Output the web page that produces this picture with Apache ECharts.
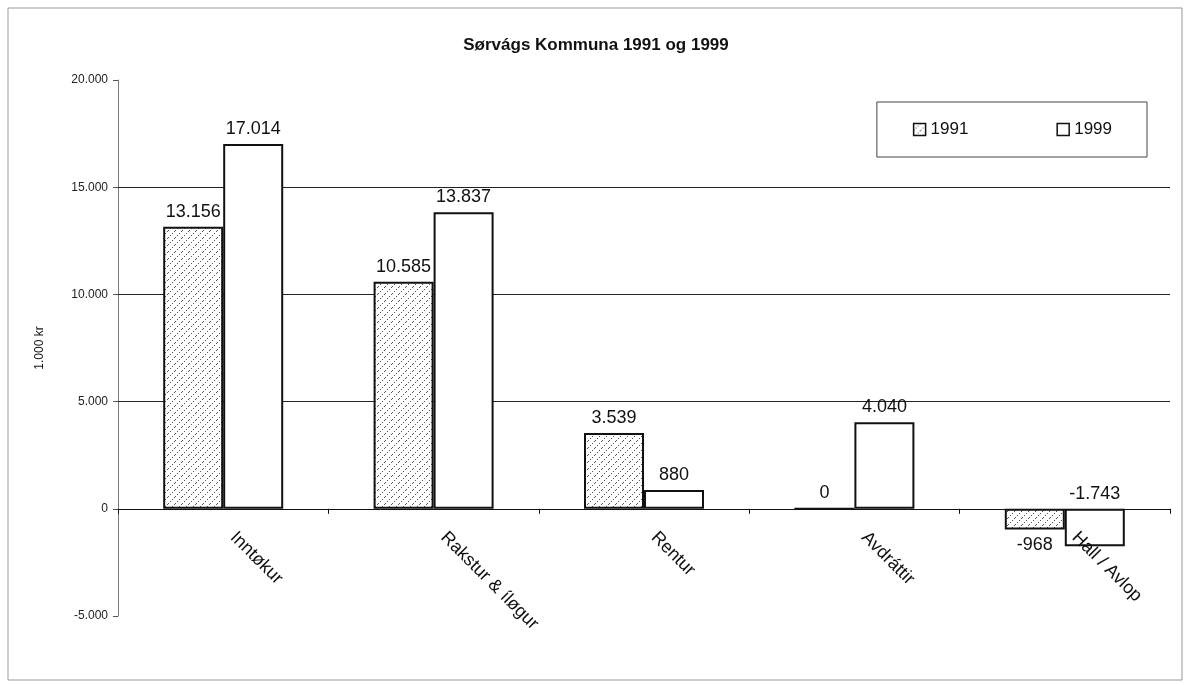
<!DOCTYPE html>
<html>
<head>
<meta charset="utf-8">
<script src="https://cdn.jsdelivr.net/npm/echarts@6/dist/echarts.min.js"></script>
<style>html,body{margin:0;padding:0;background:#fff}#c{width:1192px;height:685px}</style>
</head>
<body>
<div id="c"></div>
<script>
const categories = ['Inntøkur', 'Rakstur & íløgur', 'Rentur', 'Avdráttir', 'Hall / Avlop'];
const values1991 = [13156, 10585, 3539, 0, -968];
const values1999 = [17014, 13837, 880, 4040, -1743];
const gridLines = [5000, 10000, 15000];
const yTicks = { min: -5000, max: 20000, interval: 5000 };

function fmt(v) {
  const s = Math.abs(v).toString().replace(/\B(?=(\d{3})+(?!\d))/g, '.');
  return (v < 0 ? '-' : '') + s;
}

const pc = document.createElement('canvas');
pc.width = 7; pc.height = 7;
const g = pc.getContext('2d');
g.fillStyle = '#fff'; g.fillRect(0, 0, 7, 7);
g.fillStyle = '#555';
for (let i = 0; i < 7; i += 2) { g.fillRect(i, 6 - i, 1, 1); }
const hatch = { image: pc, repetition: 'repeat' };

const font = 'Liberation Sans, Arial, sans-serif';
const chart = echarts.init(document.getElementById('c'));

const gridTop = 80, gridBottom = 69;
const plotH = 685 - gridTop - gridBottom;
const zeroOffset = plotH * (0 - yTicks.min) / (yTicks.max - yTicks.min);

function build(vals, negPos) {
  return vals.map(v => ({ value: v, label: { position: v < 0 ? negPos : 'top' } }));
}

chart.setOption({
  animation: false,
  textStyle: { fontFamily: font },
  title: { text: 'Sørvágs Kommuna 1991 og 1999', left: 'center', top: 32,
    textStyle: { fontSize: 17, fontWeight: 'bold', color: '#111', fontFamily: font } },
  legend: {
    right: 45, top: 102, itemGap: 88,
    padding: [19, 35, 19, 36],
    borderColor: '#444', borderWidth: 1,
    itemWidth: 12, itemHeight: 12, icon: 'rect',
    itemStyle: { borderColor: '#111', borderWidth: 1.5 },
    textStyle: { fontSize: 17, color: '#111', fontFamily: font },
    data: ['1991', '1999']
  },
  graphic: [{ type: 'rect', shape: { x: 8, y: 8, width: 1174, height: 672 },
    style: { fill: 'none', stroke: '#999', lineWidth: 1 }, silent: true }],
  grid: { left: 118, right: 22, top: gridTop, bottom: gridBottom, containLabel: false, outerBoundsMode: 'none' },
  xAxis: {
    type: 'category', data: categories, z: 10,
    offset: -zeroOffset,
    axisLine: { onZero: false, lineStyle: { color: '#111', width: 1 } },
    axisTick: { show: true, length: 5, lineStyle: { color: '#111' } },
    axisLabel: { rotate: -45, fontSize: 18, color: '#111', margin: 16, padding: [0, 0, 0, 14],
      interval: 0, fontFamily: font }
  },
  yAxis: {
    type: 'value', min: yTicks.min, max: yTicks.max, interval: yTicks.interval,
    name: '1.000 kr', nameLocation: 'middle', nameGap: 72, nameRotate: 90,
    nameTextStyle: { fontSize: 12, color: '#111', fontFamily: font },
    axisLine: { show: true, lineStyle: { color: '#777' } },
    axisTick: { show: true, length: 5, lineStyle: { color: '#555' } },
    axisLabel: { fontSize: 12, color: '#222', formatter: fmt, margin: 10, fontFamily: font },
    splitLine: { show: false }
  },
  series: [
    { name: 'grid', type: 'line', data: [], z: 1, silent: true,
      markLine: { silent: true, symbol: 'none', label: { show: false }, z: 1,
        lineStyle: { color: '#222', type: 'solid', width: 1 },
        data: gridLines.map(v => ({ yAxis: v })) } },
    { name: '1991', type: 'bar', data: build(values1991, 'bottom'), barWidth: 60, barGap: '0%',
      itemStyle: { color: hatch, borderColor: '#111', borderWidth: 2 },
      label: { show: true, fontSize: 18, color: '#111', formatter: p => fmt(p.value), distance: 6, fontFamily: font },
      z: 3 },
    { name: '1999', type: 'bar', data: build(values1999, 'top'), barWidth: 60,
      itemStyle: { color: '#fff', borderColor: '#111', borderWidth: 2 },
      label: { show: true, fontSize: 18, color: '#111', formatter: p => fmt(p.value), distance: 6, fontFamily: font },
      z: 3 }
  ]
});
</script>
</body>
</html>
